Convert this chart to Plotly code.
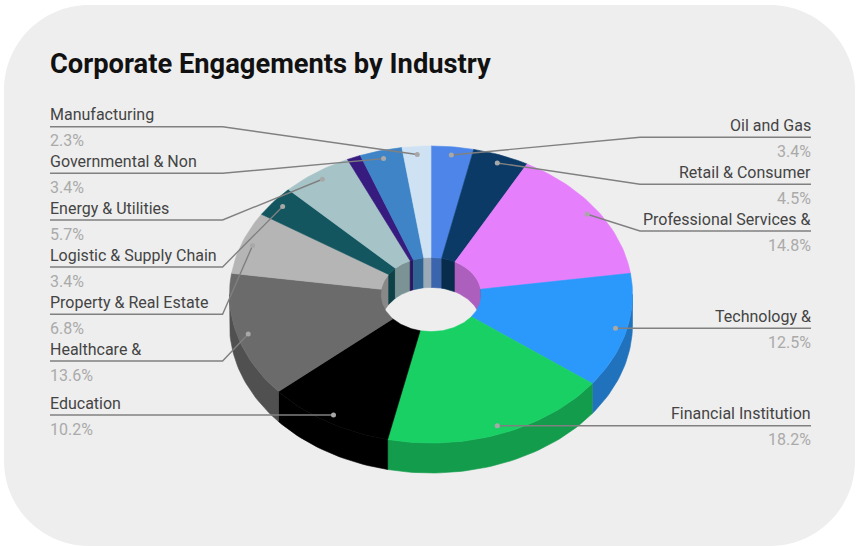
import math
import plotly.graph_objects as go

categories = ["Oil and Gas", "Retail & Consumer", "Professional Services &", "Technology &",
              "Financial Institution", "Education", "Healthcare &", "Property & Real Estate",
              "Logistic & Supply Chain", "Energy & Utilities", "", "Governmental & Non", "Manufacturing"]
shares = [3.4, 4.5, 14.8, 12.5, 18.2, 10.2, 13.6, 6.8, 3.4, 5.7, 1.1, 3.4, 2.3]
colors = ["#4d86e8", "#0b3a66", "#e57ffb", "#2b98fb", "#19d065", "#000000", "#6b6b6b",
          "#b5b5b5", "#135660", "#a6c4c8", "#371b7f", "#3e84c6", "#cfe2f3"]
label_y = [137.3, 184.3, 231, 328.3, 425.7, 415, 361, 314.3, 267, 220, None, 173.3, 126.7]

CX, CY, RX, RY, DEPTH, HOLE = 431, 294.5, 201.5, 148.5, 30, 0.25
DOT_R = 0.945
W, H = 856, 546
total = sum(shares)


def shade(c, f=0.75):
    r, g, b = int(c[1:3], 16), int(c[3:5], 16), int(c[5:7], 16)
    return "#%02x%02x%02x" % (round(r * f), round(g * f), round(b * f))


def pt(deg, r=1.0, dy=0.0):
    a = math.radians(deg)
    return CX + RX * r * math.sin(a), CY - RY * r * math.cos(a) + dy


def arc(a0, a1, r=1.0, dy=0.0):
    n = max(2, int(abs(a1 - a0) / 1.5) + 2)
    return [pt(a0 + (a1 - a0) * i / (n - 1), r, dy) for i in range(n)]


def poly(fig, pts, color, name):
    xs = [p[0] for p in pts] + [pts[0][0]]
    ys = [p[1] for p in pts] + [pts[0][1]]
    fig.add_trace(go.Scatter(x=xs, y=ys, mode="lines", fill="toself", fillcolor=color,
                             line=dict(color=color, width=0.6), hoverinfo="text",
                             text=name, showlegend=False))


fig = go.Figure()

bounds = []
acc = 0.0
for s in shares:
    bounds.append((acc / total * 360, (acc + s) / total * 360))
    acc += s

# outer wall (front half)
for (a0, a1), c, n in zip(bounds, colors, categories):
    lo, hi = max(a0, 90), min(a1, 270)
    if lo < hi:
        poly(fig, arc(lo, hi) + arc(hi, lo, dy=DEPTH), shade(c), n)

# inner wall (back half, seen through the hole)
for (a0, a1), c, n in zip(bounds, colors, categories):
    for lo, hi in ((a0, min(a1, 90)), (max(a0, 270), a1)):
        if lo < hi:
            poly(fig, arc(lo, hi, HOLE) + arc(hi, lo, HOLE, DEPTH), shade(c), n)

# top surface
for (a0, a1), c, n in zip(bounds, colors, categories):
    poly(fig, arc(a0, a1) + arc(a1, a0, HOLE), c, n)

# leader lines, dots, labels
annotations = [dict(text="<b>Corporate Engagements by Industry</b>", x=50, y=64, xref="x", yref="y",
                    xanchor="left", yanchor="middle", showarrow=False, xshift=-2,
                    font=dict(family="Roboto", size=27.3, color="#111111"))]
for (a0, a1), n, s, ly in zip(bounds, categories, shares, label_y):
    if ly is None:
        continue
    mid = (a0 + a1) / 2
    dx, dy = pt(mid, DOT_R)
    right = mid < 180
    end, elbow = (811, 640) if right else (50, 222.6)
    if n in ("Education", "Technology &", "Financial Institution"):
        xs, ys = [end, dx], [ly, ly]
    else:
        xs, ys = [end, elbow, dx], [ly, ly, dy]
    fig.add_trace(go.Scatter(x=xs, y=ys, mode="lines", line=dict(color="#808080", width=1.4),
                             hoverinfo="skip", showlegend=False))
    fig.add_trace(go.Scatter(x=[dx], y=[ys[-1]], mode="markers",
                             marker=dict(color="#a8a8a8", size=5), hoverinfo="skip", showlegend=False))
    anchor = "right" if right else "left"
    shift = 2 if right else -2
    annotations.append(dict(text=n, x=end, y=ly - 12, xref="x", yref="y", xanchor=anchor,
                            yanchor="middle", showarrow=False, xshift=shift,
                            font=dict(family="Roboto", size=16, color="#444444")))
    annotations.append(dict(text=f"{s}%", x=end, y=ly + 14, xref="x", yref="y", xanchor=anchor,
                            yanchor="middle", showarrow=False, xshift=shift,
                            font=dict(family="Roboto", size=16, color="#aaaaaa")))

L, T, R, B, C = 4, 5, 855, 546, 85
K = C * 0.4477
card = (f"M{L+C},{T} L{R-C},{T} C{R-K},{T} {R},{T+K} {R},{T+C} L{R},{B-C} "
        f"C{R},{B-K} {R-K},{B} {R-C},{B} L{L+C},{B} C{L+K},{B} {L},{B-K} {L},{B-C} "
        f"L{L},{T+C} C{L},{T+K} {L+K},{T} {L+C},{T} Z")

fig.update_layout(
    width=W, height=H, margin=dict(l=0, r=0, t=0, b=0),
    paper_bgcolor="#ffffff", plot_bgcolor="#ffffff", showlegend=False,
    xaxis=dict(range=[0, W], visible=False, fixedrange=True),
    yaxis=dict(range=[H, 0], visible=False, fixedrange=True),
    shapes=[dict(type="path", path=card, xref="x", yref="y", fillcolor="#eeeeee",
                 line=dict(width=0), layer="below")],
    annotations=annotations,
)
fig.write_html("out.html", config=dict(displayModeBar=False),
               post_script="document.body.style.margin='0';document.documentElement.style.overflow='hidden';")
